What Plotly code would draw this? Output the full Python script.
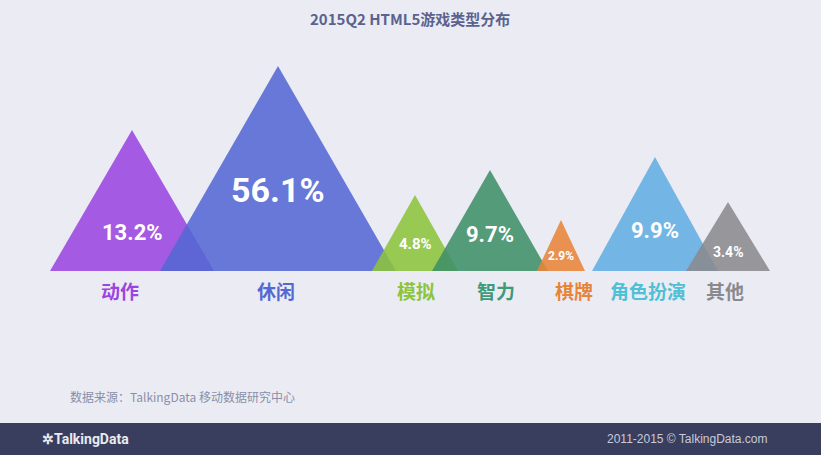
import plotly.graph_objects as go

categories = ["动作", "休闲", "模拟", "智力", "棋牌", "角色扮演", "其他"]
values = [13.2, 56.1, 4.8, 9.7, 2.9, 9.9, 3.4]
heights = [141, 205, 76, 101, 51, 114, 69]
centers = [132, 278, 415, 490, 561, 655, 728]
halfw = [82, 118, 43, 58, 24, 63, 42]
lblx = [120, 276, 416, 496, 574, 648, 725]
pcty = [232, 190, 244, 234, 256, 230, 252]
fills = ["#9b45e0", "#5468d4", "#8cc43c", "#3f8f68", "#e8843a", "#62aee2", "#8a8a8e"]
lblcol = ["#9b45e0", "#5468d4", "#8cc43c", "#3f9a78", "#e8843a", "#4fc0d6", "#8a8a8e"]
fsz = [22, 34, 15, 22, 12, 22, 14]

BASE = 271
fig = go.Figure()
for c, v, h, cx, hw, f, lc, fs, lx, py in zip(categories, values, heights, centers, halfw, fills, lblcol, fsz, lblx, pcty):
    fig.add_trace(go.Scatter(x=[cx-hw, cx, cx+hw, cx-hw], y=[BASE, BASE-h, BASE, BASE],
                             fill="toself", fillcolor=f, opacity=0.88, mode="lines",
                             line=dict(width=0), hoverinfo="skip", showlegend=False))
    fig.add_annotation(x=cx, y=py, text=f"<b>{v}%</b>", showarrow=False,
                       font=dict(family="Roboto, sans-serif", size=fs, color="white"))
    fig.add_annotation(x=lx, y=290, text=f"<b>{c}</b>", showarrow=False,
                       font=dict(family="Noto Sans CJK SC", size=19, color=lc))

fig.add_shape(type="rect", x0=0, x1=821, y0=423, y1=455, fillcolor="#3a3e5e", line_width=0, layer="below")
fig.add_annotation(x=410, y=18, text="<b>2015Q2 HTML5游戏类型分布</b>", showarrow=False,
                   font=dict(family="Noto Sans CJK SC", size=15, color="#5a6290"))
fig.add_annotation(x=68, y=396, xanchor="left", text="数据来源：TalkingData 移动数据研究中心", showarrow=False,
                   font=dict(family="Noto Sans CJK SC", size=12, color="#8a8fa8"))
fig.add_annotation(x=40, y=439, xanchor="left", text="<b>✲TalkingData</b>", showarrow=False,
                   font=dict(family="Roboto", size=14, color="#e8eaf2"))
fig.add_annotation(x=770, y=439, xanchor="right", text="2011-2015 © TalkingData.com", showarrow=False,
                   font=dict(family="Liberation Sans", size=12, color="#c8cad8"))

fig.update_layout(width=821, height=455, margin=dict(l=0, r=0, t=0, b=0),
                  paper_bgcolor="#ebecf3", plot_bgcolor="#ebecf3",
                  xaxis=dict(range=[0, 821], visible=False, fixedrange=True),
                  yaxis=dict(range=[455, 0], visible=False, fixedrange=True))
fig.write_html("out.html", config={"displayModeBar": False},
               post_script="document.body.style.margin='0';document.body.style.padding='0';")
